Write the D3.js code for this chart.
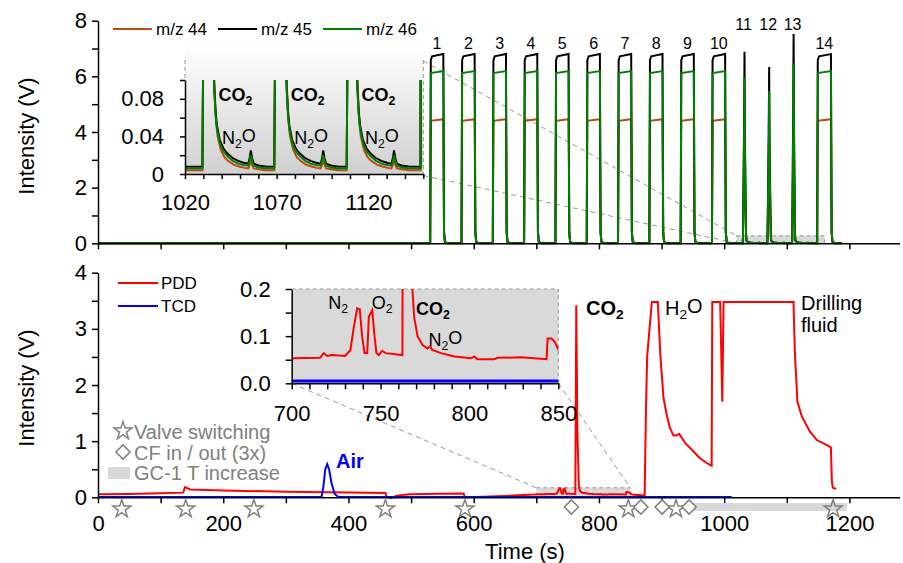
<!DOCTYPE html>
<html>
<head>
<meta charset="utf-8">
<script src="https://cdn.jsdelivr.net/npm/d3@7"></script>
<style>
  body { margin: 0; background: #fff; }
  svg { font-family: "Liberation Sans", Arial, sans-serif; }
  .axis path, .axis line { stroke: #000; stroke-width: 1.5; }
  .axis text { font-size: 22px; fill: #000; }
</style>
</head>
<body>
<div id="paper"></div>
<script>

// ---- top panel: IRMS peaks (m/z 44, 45, 46) ----

const plateauStart = [531, 581, 631, 681, 731, 781, 831, 881, 931, 981, 1149]
const plateauEnd   = [552, 602, 652, 702, 752, 802, 852, 902, 952, 1002, 1171]
const plateauLabel = ["1", "2", "3", "4", "5", "6", "7", "8", "9", "10", "14"]
const level44 = [4.40, 4.46]
const level45 = [6.58, 6.72, 6.80]
const level46 = [6.12, 6.19]

const spikeRise  = [1029.5, 1068.7, 1108.2]
const spikeFall  = [1035.5, 1075.0, 1113.6]
const spikeLabel = ["11", "12", "13"]
const spike44 = [4.30, 3.95, 4.70]
const spike45 = [6.88, 6.34, 7.52]
const spike46 = [5.96, 5.48, 6.46]

const base44 = 0.004
const base45 = 0.0078
const base46 = 0.006

// decay after a spike, [seconds after fall, V], with the N2O bump (read off the inset)
const tail45 = [[0.5,0.09],[1.1,0.068],[1.9,0.052],[3.5,0.036],[5.5,0.027],[7.5,0.022],[10.5,0.017],[13.5,0.014],[16.5,0.012],[19,0.011],[19.8,0.017],[20.4,0.025],[21.1,0.017],[22,0.011],[24.5,0.009],[28.5,0.008]]
const tail46 = [[0.6,0.085],[1.2,0.062],[2,0.047],[3.6,0.032],[5.6,0.024],[7.6,0.019],[10.6,0.014],[13.6,0.011],[16.6,0.0095],[19,0.009],[19.8,0.014],[20.4,0.020],[21.1,0.014],[22,0.009],[24.5,0.007],[28.5,0.006]]
const tail44 = [[0.9,0.08],[1.5,0.055],[2.3,0.04],[4,0.026],[6,0.018],[8,0.014],[11,0.010],[14,0.008],[17,0.0065],[19,0.006],[19.8,0.010],[20.4,0.015],[21.1,0.010],[22,0.006],[24.5,0.005],[28.5,0.004]]

// ---- bottom panel: PDD and TCD ----

const pdd = [[0,0.053],[50,0.06],[100,0.07],[136,0.083],[139,0.18],[147,0.14],[200,0.12],[300,0.1],[400,0.085],[459,0.077],[461,0.006],[469,-0.01],[477,0.03],[498,0.053],[546,0.065],[584,0.068],[586,0.0],[614,0.01],[650,0.025],[697,0.05],[700,0.053],[716,0.054],[718,0.064],[720,0.058],[722.6,0.06],[730,0.058],[733,0.07],[735,0.12],[736.8,0.159],[738.3,0.157],[739.6,0.1],[741,0.064],[742.5,0.064],[743.4,0.141],[745.3,0.155],[746.6,0.1],[747.7,0.064],[749,0.06],[750.9,0.069],[752.8,0.064],[762.3,0.06],[763.8,3.42],[765.5,1.2],[767.9,0.2],[768.9,0.141],[770.8,0.1],[773.6,0.081],[776.4,0.074],[777.9,0.079],[779,0.071],[784,0.064],[791.5,0.057],[801,0.053],[802.8,0.057],[804.3,0.051],[814,0.051],[816,0.054],[829,0.055],[843.4,0.051],[844,0.095],[846.2,0.095],[848,0.088],[851,0.064],[853,0.05],[873,0.03],[875,1.5],[877,2.5],[880,2.9],[884.5,3.48],[894,3.48],[898,2.55],[903,1.78],[908,1.48],[913,1.25],[919,1.1],[923,1.1],[928,1.13],[939,0.95],[950,0.83],[960,0.71],[971,0.62],[980,0.56],[981,3.48],[993.6,3.48],[997,1.70],[999,3.48],[1110.7,3.48],[1113,2.55],[1117,1.7],[1124,1.44],[1137,1.17],[1148,1.02],[1164,0.93],[1170.4,0.89],[1172,0.28],[1173.6,0.17],[1179,0.15]]
const tcd = [[0,0.005],[357,0.005],[360,0.2],[363,0.5],[366,0.59],[369,0.5],[373,0.25],[378,0.06],[384,0.005],[1012,0.005]]

// markers under the time axis
const valveTimes = [38, 140, 249, 459, 586, 847, 923, 1174]
const cfTimes = [756, 867, 901, 944]
const gcRamp = [951, 1196]

const col44 = "#b94a11", col45 = "#000000", col46 = "#008000"
const grey = "#808080"

// build the m/z series from the peak tables

function ms_series(level, spikeTop, tail, base) {
    let pts = [[0, base]]
    let ev = []
    plateauStart.forEach((s, i) => ev.push({t: s, kind: "p", i: i}))
    spikeRise.forEach((s, i) => ev.push({t: s, kind: "s", i: i}))
    ev.sort((a, b) => a.t - b.t)
    ev.forEach(e => {
        if (e.kind == "p") {
            let s = plateauStart[e.i], f = plateauEnd[e.i]
            pts.push([s - 0.5, base], [s + 0.5, level[0]])
            if (level.length == 3) pts.push([s + 2.5, level[1]])
            pts.push([f - 0.5, level[level.length - 1]], [f + 0.6, 0.4], [f + 2, 0.05], [f + 6, base])
        } else {
            let s = spikeRise[e.i], f = spikeFall[e.i], top = spikeTop[e.i]
            let mid = (s + f) / 2
            pts.push([s, base], [s + 0.5, 0.15], [mid - 0.8, top * 0.6], [mid, top], [mid + 0.8, top * 0.5], [f - 0.5, 0.3], [f, 0.12])
            tail.forEach(d => pts.push([f + d[0], d[1]]))
        }
    })
    pts.push([1188, base])
    return pts
}

const s44 = ms_series(level44, spike44, tail44, base44)
const s45 = ms_series(level45, spike45, tail45, base45)
const s46 = ms_series(level46, spike46, tail46, base46)

// ---- scales ----

const x = d3.scaleLinear().domain([0, 1280]).range([98, 899.5])
const yTop = d3.scaleLinear().domain([0, 8]).range([243.3, 20.7])
const yBot = d3.scaleLinear().domain([0, 4]).range([497.3, 272.7])
const xIn1 = d3.scaleLinear().domain([1020, 1150]).range([185, 423.3])
const yIn1 = d3.scaleLinear().domain([0, 0.1]).range([174, 80])
const xIn2 = d3.scaleLinear().domain([700, 850]).range([291.7, 558.3])
const yIn2 = d3.scaleLinear().domain([0, 0.2]).range([383.3, 289])

const svg = d3.select("#paper").append("svg")
    .attr("width", 903).attr("height", 563)

const defs = svg.append("defs")
const grad = defs.append("linearGradient").attr("id", "fade")
    .attr("x1", 0).attr("y1", 0).attr("x2", 0).attr("y2", 1)
grad.append("stop").attr("offset", "0").attr("stop-color", "#ffffff")
grad.append("stop").attr("offset", "1").attr("stop-color", "#d0d0d0")
defs.append("clipPath").attr("id", "clip1").append("rect")
    .attr("x", 185).attr("y", 80).attr("width", 238.3).attr("height", 94)
defs.append("clipPath").attr("id", "clip2").append("rect")
    .attr("x", 291.7).attr("y", 289).attr("width", 266.6).attr("height", 94.3)

function sub_text(g, parts, xx, yy, size, opts) {
    // parts: [text, isSub]
    let t = g.append("text").attr("x", xx).attr("y", yy)
        .style("font-size", size + "px").attr("fill", opts.fill || "#000")
        .attr("font-weight", opts.bold ? "bold" : null)
        .attr("text-anchor", opts.anchor || "start")
    let down = false
    parts.forEach(p => {
        let ts = t.append("tspan").text(p[0])
        if (p[1] && !down) { ts.attr("dy", "0.3em").style("font-size", (size * 0.68) + "px"); down = true }
        else if (!p[1] && down) { ts.attr("dy", "-0.3em"); down = false }
    })
    return t
}

// ================= TOP PANEL =================

const topG = svg.append("g")

// zoom box and connectors for inset 1
topG.append("rect")
    .attr("x", x(1020)).attr("y", yTop(0.27))
    .attr("width", x(1160) - x(1020)).attr("height", yTop(0) - yTop(0.27))
    .attr("fill", "#d9d9d9").attr("stroke", "#999").attr("stroke-dasharray", "4,3")
topG.append("line").attr("x1", 423.3).attr("y1", 61).attr("x2", x(1020)).attr("y2", yTop(0.27))
    .attr("stroke", "#999").attr("stroke-dasharray", "5,4")
topG.append("line").attr("x1", 423.3).attr("y1", 175.5).attr("x2", x(1020)).attr("y2", yTop(0))
    .attr("stroke", "#999").attr("stroke-dasharray", "5,4")

const lineTop = d3.line().x(d => x(d[0])).y(d => yTop(d[1]))
topG.append("path").datum(s44).attr("d", lineTop).attr("fill", "none").attr("stroke", col44).attr("stroke-width", 2)
topG.append("path").datum(s45).attr("d", lineTop).attr("fill", "none").attr("stroke", col45).attr("stroke-width", 2)
topG.append("path").datum(s46).attr("d", lineTop).attr("fill", "none").attr("stroke", col46).attr("stroke-width", 2)

topG.append("g").attr("class", "axis").attr("transform", "translate(0,243.3)")
    .call(d3.axisBottom(x).tickValues(d3.range(0, 1201, 100)).tickFormat("").tickSize(6).tickSizeOuter(0))
topG.append("g").attr("class", "axis").attr("transform", "translate(98,0)")
    .call(d3.axisLeft(yTop).tickValues(d3.range(0, 9, 1)).tickFormat(d => d % 2 == 0 ? d : "").tickSize(6).tickPadding(5).tickSizeOuter(0))

// peak numbers
plateauStart.forEach((s, i) => {
    topG.append("text").attr("x", x((s + plateauEnd[i]) / 2)).attr("y", 49)
        .attr("text-anchor", "middle").style("font-size", "16px").text(plateauLabel[i])
})
spikeRise.forEach((s, i) => {
    topG.append("text").attr("x", x((s + spikeFall[i]) / 2) - 1).attr("y", 30)
        .attr("text-anchor", "middle").style("font-size", "16px").text(spikeLabel[i])
})

// legend
const legTop = [["m/z 44", col44, 113], ["m/z 45", col45, 218], ["m/z 46", col46, 323]]
legTop.forEach(l => {
    topG.append("line").attr("x1", l[2]).attr("x2", l[2] + 39).attr("y1", 29).attr("y2", 29)
        .attr("stroke", l[1]).attr("stroke-width", 2)
    topG.append("text").attr("x", l[2] + 43).attr("y", 35).style("font-size", "17px").text(l[0])
})

// inset 1
const in1 = svg.append("g")
in1.append("rect").attr("x", 185).attr("y", 45).attr("width", 238.3).attr("height", 129)
    .attr("fill", "url(#fade)")
in1.append("line").attr("x1", 185).attr("x2", 185).attr("y1", 60).attr("y2", 80)
    .attr("stroke", "#999").attr("stroke-dasharray", "4,3")
in1.append("line").attr("x1", 423.3).attr("x2", 423.3).attr("y1", 60).attr("y2", 174)
    .attr("stroke", "#999").attr("stroke-dasharray", "4,3")
const lineIn1 = d3.line().x(d => xIn1(d[0])).y(d => yIn1(d[1]))
const in1Lines = in1.append("g").attr("clip-path", "url(#clip1)")
in1Lines.append("path").datum(s44).attr("d", lineIn1).attr("fill", "none").attr("stroke", col44).attr("stroke-width", 2)
in1Lines.append("path").datum(s45).attr("d", lineIn1).attr("fill", "none").attr("stroke", col45).attr("stroke-width", 2)
in1Lines.append("path").datum(s46).attr("d", lineIn1).attr("fill", "none").attr("stroke", col46).attr("stroke-width", 2)
in1.append("g").attr("class", "axis").attr("transform", "translate(0,174)")
    .call(d3.axisBottom(xIn1).tickValues(d3.range(1020, 1151, 10)).tickFormat(d => (d - 1020) % 50 == 0 ? d : "").tickSize(5).tickPadding(15).tickSizeOuter(0))
in1.append("g").attr("class", "axis").attr("transform", "translate(185,0)")
    .call(d3.axisLeft(yIn1).tickValues([0, 0.02, 0.04, 0.06, 0.08, 0.1]).tickFormat(d => d == 0 ? "0" : (Math.round(d * 100) % 4 == 0 ? d.toFixed(2) : "")).tickSize(5).tickPadding(16).tickSizeOuter(0))
spikeFall.forEach(f => {
    sub_text(in1, [["CO", 0], ["2", 1]], xIn1(f) + 5, 101, 18, {bold: true})
    sub_text(in1, [["N", 0], ["2", 1], ["O", 0]], xIn1(f + 20.4) - 12, 144, 18, {anchor: "middle"})
})

// ================= BOTTOM PANEL =================

const bot = svg.append("g")

// zoom box and connectors for inset 2
bot.append("rect")
    .attr("x", x(700)).attr("y", yBot(0.17))
    .attr("width", x(850) - x(700)).attr("height", yBot(0) - yBot(0.17))
    .attr("fill", "#d9d9d9")
bot.append("path")
    .attr("d", `M${x(700)},${yBot(0.17)}H${x(850)}V${yBot(0)}`)
    .attr("fill", "none").attr("stroke", "#999").attr("stroke-dasharray", "4,3")
bot.append("line").attr("x1", 291.7).attr("y1", 383.3).attr("x2", x(700)).attr("y2", yBot(0.17))
    .attr("stroke", "#999").attr("stroke-dasharray", "5,4")
bot.append("line").attr("x1", 558.3).attr("y1", 383.3).attr("x2", x(850)).attr("y2", yBot(0.17))
    .attr("stroke", "#999").attr("stroke-dasharray", "5,4")

const lineBot = d3.line().x(d => x(d[0])).y(d => yBot(d[1]))
bot.append("path").datum(pdd).attr("d", lineBot).attr("fill", "none").attr("stroke", "#ff0000").attr("stroke-width", 2)
bot.append("path").datum(tcd).attr("d", lineBot).attr("fill", "none").attr("stroke", "#0000ff").attr("stroke-width", 2)

bot.append("g").attr("class", "axis").attr("transform", "translate(0,497.3)")
    .call(d3.axisBottom(x).tickValues(d3.range(0, 1201, 100)).tickFormat(d => d % 200 == 0 ? d : "").tickSize(6).tickPadding(12).tickSizeOuter(0))
bot.append("g").attr("class", "axis").attr("transform", "translate(98,0)")
    .call(d3.axisLeft(yBot).tickValues(d3.range(0, 4.01, 0.5)).tickFormat(d => d % 1 == 0 ? d : "").tickSize(6).tickPadding(5).tickSizeOuter(0))

// markers below the axis
bot.append("rect").attr("x", x(gcRamp[0])).attr("y", 503).attr("width", x(gcRamp[1]) - x(gcRamp[0])).attr("height", 8)
    .attr("fill", "#d9d9d9")
const star = d3.symbol(d3.symbolStar, 100)
const diamond = d3.symbol(d3.symbolSquare, 100)
bot.selectAll(".valve").data(valveTimes).join("path").attr("class", "valve")
    .attr("d", star).attr("transform", d => `translate(${x(d)},509)`)
    .attr("fill", "none").attr("stroke", grey).attr("stroke-width", 1.5)
bot.selectAll(".cf").data(cfTimes).join("path").attr("class", "cf")
    .attr("d", diamond).attr("transform", d => `translate(${x(d)},507) rotate(45)`)
    .attr("fill", "#fff").attr("stroke", grey).attr("stroke-width", 1.5)

// legends
bot.append("line").attr("x1", 118).attr("x2", 158).attr("y1", 283).attr("y2", 283).attr("stroke", "#ff0000").attr("stroke-width", 2)
bot.append("text").attr("x", 161).attr("y", 289).style("font-size", "17px").text("PDD")
bot.append("line").attr("x1", 118).attr("x2", 158).attr("y1", 306).attr("y2", 306).attr("stroke", "#0000ff").attr("stroke-width", 2)
bot.append("text").attr("x", 161).attr("y", 312).style("font-size", "17px").text("TCD")

bot.append("path").attr("d", star).attr("transform", "translate(123,431)")
    .attr("fill", "none").attr("stroke", grey).attr("stroke-width", 1.5)
bot.append("path").attr("d", diamond).attr("transform", "translate(123,452) rotate(45)")
    .attr("fill", "#fff").attr("stroke", grey).attr("stroke-width", 1.5)
bot.append("rect").attr("x", 108).attr("y", 467).attr("width", 22).attr("height", 12).attr("fill", "#d9d9d9")
const legMark = [["Valve switching", 438.5], ["CF in / out (3x)", 459.5], ["GC-1 T increase", 480]]
legMark.forEach(l => {
    bot.append("text").attr("x", 134).attr("y", l[1]).style("font-size", "20px").attr("fill", grey).text(l[0])
})

// annotations
bot.append("text").attr("x", 336).attr("y", 468).style("font-size", "20px").attr("font-weight", "bold")
    .attr("fill", "#0000ff").text("Air")
sub_text(bot, [["CO", 0], ["2", 1]], 586, 315, 20, {bold: true})
sub_text(bot, [["H", 0], ["2", 1], ["O", 0]], 665, 315, 20, {})
bot.append("text").attr("x", 801).attr("y", 310).style("font-size", "20px").text("Drilling")
bot.append("text").attr("x", 801).attr("y", 332).style("font-size", "20px").text("fluid")

// inset 2
const in2 = svg.append("g")
in2.append("rect").attr("x", 291.7).attr("y", 289).attr("width", 266.6).attr("height", 94.3).attr("fill", "#d9d9d9")
in2.append("path").attr("d", "M291.7,289H558.3V383.3")
    .attr("fill", "none").attr("stroke", "#999").attr("stroke-dasharray", "4,3")
const lineIn2 = d3.line().x(d => xIn2(d[0])).y(d => yIn2(d[1]))
const in2Lines = in2.append("g").attr("clip-path", "url(#clip2)")
in2Lines.append("path").datum(pdd).attr("d", lineIn2).attr("fill", "none").attr("stroke", "#ff0000").attr("stroke-width", 2)
in2Lines.append("path").datum(tcd).attr("d", lineIn2).attr("fill", "none").attr("stroke", "#0000ff").attr("stroke-width", 3)
in2.append("g").attr("class", "axis").attr("transform", "translate(0,383.3)")
    .call(d3.axisBottom(xIn2).tickValues(d3.range(700, 851, 10)).tickFormat(d => d % 50 == 0 ? d : "").tickSize(6).tickPadding(16).tickSizeOuter(0))
in2.append("g").attr("class", "axis").attr("transform", "translate(291.7,0)")
    .call(d3.axisLeft(yIn2).tickValues([0, 0.05, 0.1, 0.15, 0.2]).tickFormat(d => Math.round(d * 100) % 10 == 0 ? d.toFixed(1) : "").tickSize(6).tickPadding(15).tickSizeOuter(0))
sub_text(in2, [["N", 0], ["2", 1]], xIn2(720.6), 309, 18, {})
sub_text(in2, [["O", 0], ["2", 1]], xIn2(745), 309, 18, {})
sub_text(in2, [["CO", 0], ["2", 1]], xIn2(770), 315, 18, {bold: true})
sub_text(in2, [["N", 0], ["2", 1], ["O", 0]], xIn2(777), 346, 18, {})

// axis titles
svg.append("text").attr("transform", "translate(34,136) rotate(-90)").attr("text-anchor", "middle")
    .style("font-size", "22px").text("Intensity (V)")
svg.append("text").attr("transform", "translate(34,388) rotate(-90)").attr("text-anchor", "middle")
    .style("font-size", "22px").text("Intensity (V)")
svg.append("text").attr("x", 525).attr("y", 559).attr("text-anchor", "middle")
    .style("font-size", "22px").text("Time (s)")

</script>
</body>
</html>
